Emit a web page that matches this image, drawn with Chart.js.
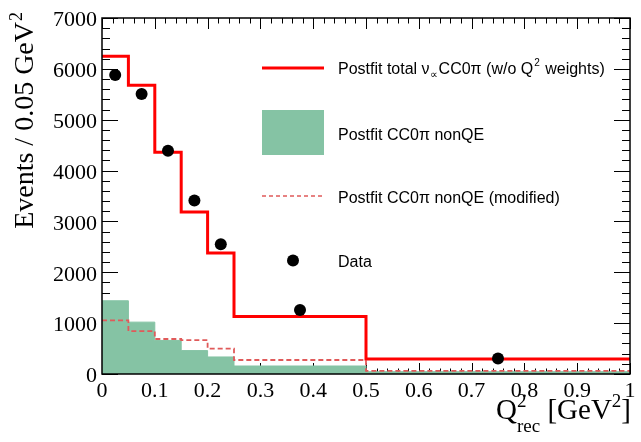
<!DOCTYPE html>
<html><head><meta charset="utf-8">
<script src="https://cdn.jsdelivr.net/npm/chart.js@4.4.0/dist/chart.umd.min.js"></script>
<style>html,body{margin:0;padding:0;background:#fff;overflow:hidden}canvas{display:block}</style>
</head><body>
<canvas id="c" width="641" height="442"></canvas>
<script>
const binEdges = [0, 0.05, 0.1, 0.15, 0.2, 0.25, 0.5, 1.0];
const postfitTotal = [6250, 5680, 4360, 3185, 2380, 1130, 295];
const postfitNonQE = [1440, 1020, 660, 460, 335, 157, 45];
const postfitNonQEMod = [1055, 845, 688, 668, 498, 275, 60];
const dataX = [0.025, 0.075, 0.125, 0.175, 0.225, 0.375, 0.75];
const dataY = [5880, 5505, 4390, 3410, 2550, 1260, 305];
const xTickLabels = ['0','0.1','0.2','0.3','0.4','0.5','0.6','0.7','0.8','0.9','1'];
const yTickLabels = ['0','1000','2000','3000','4000','5000','6000','7000'];
const legendLabels = ['Postfit total \u03bd', '\u221d', 'CC0\u03c0 (w/o Q', '2', ' weights)',
  'Postfit CC0\u03c0 nonQE', 'Postfit CC0\u03c0 nonQE (modified)', 'Data'];
const yTitle = ['Events / 0.05 GeV', '2'];
const xTitle = ['Q', 'rec', '2', ' [GeV', '2', ']'];

const RED = '#ff0000', GREEN = '#85c3a4', DASH = '#e05a5a';

function histPoints(vals) {
  const pts = vals.map((v, i) => ({x: binEdges[i], y: v}));
  pts.push({x: binEdges[binEdges.length - 1], y: vals[vals.length - 1]});
  return pts;
}

function seg(ctx, x1, y1, x2, y2) { ctx.beginPath(); ctx.moveTo(x1, y1); ctx.lineTo(x2, y2); ctx.stroke(); }

const rootAxes = {
  id: 'rootAxes',
  beforeDatasetsDraw(chart) {
    const {ctx, chartArea: a, scales: {x, y}} = chart;
    ctx.save();
    ctx.strokeStyle = '#000'; ctx.lineWidth = 1;
    for (let i = 0; i <= 35; i++) {
      const py = Math.round(y.getPixelForValue(i * 200)) + 0.5;
      const L = i % 5 === 0 ? 16 : 8;
      seg(ctx, a.left, py, a.left + L, py);
      seg(ctx, a.right, py, a.right - L, py);
    }
    for (let i = 0; i <= 50; i++) {
      const px = Math.round(x.getPixelForValue(i * 0.02)) + 0.5;
      const L = i % 5 === 0 ? 11 : 5.5;
      seg(ctx, px, a.bottom, px, a.bottom - L);
      seg(ctx, px, a.top, px, a.top + L);
    }
    ctx.restore();
  },
  afterDatasetsDraw(chart) {
    const {ctx, chartArea: a} = chart;
    ctx.save();
    ctx.strokeStyle = '#000'; ctx.lineWidth = 1.5;
    ctx.strokeRect(a.left, a.top, a.right - a.left, a.bottom - a.top);
    ctx.restore();
  },
  afterDraw(chart) {
    const ctx = chart.ctx;
    ctx.save();
    ctx.fillStyle = '#000';
    // Legend
    const sx0 = 262, sx1 = 324, tx = 338;
    ctx.strokeStyle = RED; ctx.lineWidth = 3;
    seg(ctx, sx0, 68, sx1, 68);
    ctx.fillStyle = GREEN; ctx.fillRect(sx0, 110, sx1 - sx0, 45);
    ctx.strokeStyle = DASH; ctx.lineWidth = 1.5; ctx.setLineDash([4, 3]);
    seg(ctx, sx0, 196, sx1 - 2, 196);
    ctx.setLineDash([]);
    ctx.fillStyle = '#000';
    ctx.beginPath(); ctx.arc(293, 260.5, 6, 0, Math.PI * 2); ctx.fill();
    ctx.textBaseline = 'alphabetic'; ctx.textAlign = 'left';
    const F = '"Liberation Sans", Arial, sans-serif';
    let cx = tx;
    ctx.font = '16px ' + F; ctx.fillText(legendLabels[0], cx, 73.5); cx += ctx.measureText(legendLabels[0]).width;
    ctx.font = '11px ' + F; ctx.fillText(legendLabels[1], cx + 0.5, 77.5); cx += ctx.measureText(legendLabels[1]).width + 1;
    ctx.font = '16px ' + F; ctx.fillText(legendLabels[2], cx, 73.5); cx += ctx.measureText(legendLabels[2]).width;
    ctx.font = '10px ' + F; ctx.fillText(legendLabels[3], cx + 1, 66); cx += ctx.measureText(legendLabels[3]).width + 2;
    ctx.font = '16px ' + F; ctx.fillText(legendLabels[4], cx, 73.5);
    ctx.fillText(legendLabels[5], tx, 140);
    ctx.fillText(legendLabels[6], tx, 202.7);
    ctx.fillText(legendLabels[7], tx, 266.5);

    // Y title (rotated)
    const S = '"Liberation Serif", "Times New Roman", serif';
    ctx.font = '28px ' + S;
    const w1 = ctx.measureText(yTitle[0]).width;
    ctx.font = '18px ' + S;
    const w2 = ctx.measureText(yTitle[1]).width;
    ctx.save();
    ctx.translate(33, 13 + w1 + w2);
    ctx.rotate(-Math.PI / 2);
    ctx.font = '28px ' + S; ctx.fillText(yTitle[0], 0, 0);
    ctx.font = '18px ' + S; ctx.fillText(yTitle[1], w1 + 1, -11);
    ctx.restore();

    // X title
    ctx.font = '29px ' + S;
    const wQ = ctx.measureText(xTitle[0]).width;
    const wG = ctx.measureText(xTitle[3]).width;
    const wB = ctx.measureText(xTitle[5]).width;
    ctx.font = '19px ' + S;
    const wr = ctx.measureText(xTitle[1]).width;
    const w2b = ctx.measureText(xTitle[4]).width;
    const total = wQ + wr + wG + w2b + wB;
    let xx = 631 - total;
    const base = 419;
    ctx.font = '29px ' + S; ctx.fillText(xTitle[0], xx, base); xx += wQ;
    ctx.font = '19px ' + S; ctx.fillText(xTitle[1], xx, base + 13); ctx.fillText(xTitle[2], xx, base - 12); xx += wr;
    ctx.font = '29px ' + S; ctx.fillText(xTitle[3], xx, base); xx += wG;
    ctx.font = '19px ' + S; ctx.fillText(xTitle[4], xx, base - 12); xx += w2b;
    ctx.font = '29px ' + S; ctx.fillText(xTitle[5], xx, base);
    ctx.restore();
  }
};

const tickFont = {family: '"Liberation Serif", "Times New Roman", serif', size: 22};

new Chart(document.getElementById('c').getContext('2d'), {
  type: 'line',
  data: {
    datasets: [
      {label: 'Data', type: 'scatter', data: dataX.map((x, i) => ({x: x, y: dataY[i]})),
       pointRadius: 6, pointBackgroundColor: '#000', pointBorderColor: '#000', pointBorderWidth: 0, showLine: false, order: 0},
      {label: 'Postfit total', data: histPoints(postfitTotal), stepped: true, borderColor: RED, borderWidth: 3,
       pointRadius: 0, fill: false, order: 1},
      {label: 'Postfit CC0pi nonQE (modified)', data: histPoints(postfitNonQEMod), stepped: true, borderColor: DASH,
       borderWidth: 1.8, borderDash: [5, 3], pointRadius: 0, fill: false, order: 2},
      {label: 'Postfit CC0pi nonQE', data: histPoints(postfitNonQE), stepped: true, borderColor: GREEN,
       borderWidth: 1, backgroundColor: GREEN, pointRadius: 0, fill: 'origin', order: 3}
    ]
  },
  options: {
    responsive: false, animation: false, events: [],
    plugins: {legend: {display: false}, tooltip: {enabled: false}, title: {display: false}},
    layout: {padding: {top: 18, right: 11, left: 0, bottom: 0}},
    scales: {
      x: {type: 'linear', min: 0, max: 1, border: {display: false},
          grid: {display: false, drawTicks: false},
          ticks: {stepSize: 0.1, autoSkip: false, maxRotation: 0, padding: 4, color: '#000', font: tickFont,
                  callback: (v, i) => xTickLabels[i]},
          afterFit(s) { s.height = 68; s.paddingLeft = 0; s.paddingRight = 0; }},
      y: {type: 'linear', min: 0, max: 7000, border: {display: false},
          grid: {display: false, drawTicks: false},
          ticks: {stepSize: 1000, autoSkip: false, padding: 5, labelOffset: 2.5, color: '#000', font: tickFont,
                  callback: (v, i) => yTickLabels[i]},
          afterFit(s) { s.width = 102; s.paddingTop = 0; s.paddingBottom = 0; }}
    }
  },
  plugins: [rootAxes]
});
</script>
</body></html>
